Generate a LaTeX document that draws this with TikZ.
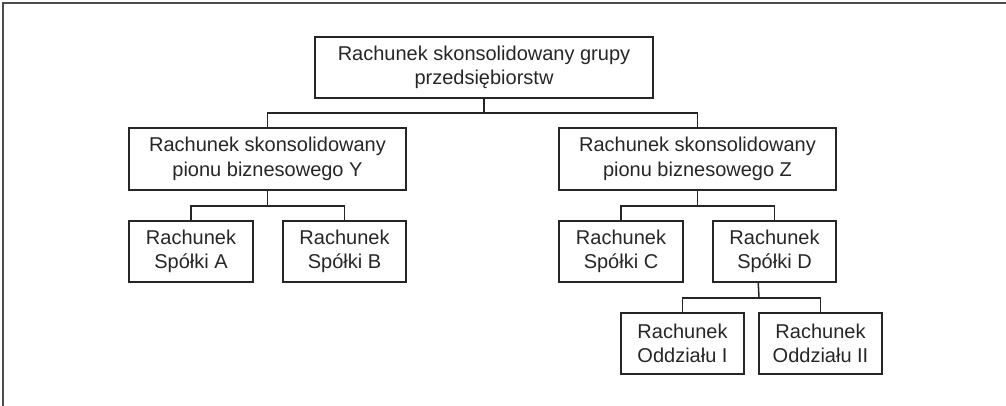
\documentclass[tikz,border=0pt]{standalone}
\usepackage{fontspec}
\setmainfont{Liberation Sans}
\begin{document}
\begin{tikzpicture}[x=0.75pt,y=-0.75pt,
  box/.style={draw=black!85,line width=1.15pt,rectangle,inner sep=0pt,align=center,
    font=\fontsize{15}{18.4}\selectfont,text=black!85},
  conn/.style={draw=black!85,line width=1.15pt},
  frame/.style={draw=black!70,line width=1.4pt}]
\useasboundingbox (0,0) rectangle (1006,406);
\draw[frame] (3,406) -- (3,3) -- (1006,3);
\node[box,minimum width=338*0.75pt,minimum height=61*0.75pt] (top) at (484,67.5) {Rachunek skonsolidowany grupy\\przedsiębiorstw};
\node[box,minimum width=277*0.75pt,minimum height=62*0.75pt] (Y) at (267.5,159) {Rachunek skonsolidowany\\pionu biznesowego Y};
\node[box,minimum width=277*0.75pt,minimum height=62*0.75pt] (Z) at (697.5,159) {Rachunek skonsolidowany\\pionu biznesowego Z};
\node[box,minimum width=124*0.75pt,minimum height=61*0.75pt] (A) at (191,251.5) {Rachunek\\Spółki A};
\node[box,minimum width=123*0.75pt,minimum height=61*0.75pt] (B) at (344.5,251.5) {Rachunek\\Spółki B};
\node[box,minimum width=124*0.75pt,minimum height=61*0.75pt] (C) at (621,251.5) {Rachunek\\Spółki C};
\node[box,minimum width=123*0.75pt,minimum height=61*0.75pt] (D) at (774.5,251.5) {Rachunek\\Spółki D};
\node[box,minimum width=123*0.75pt,minimum height=61*0.75pt] (I) at (682.5,343.5) {Rachunek\\Oddziału I};
\node[box,minimum width=123*0.75pt,minimum height=61*0.75pt] (II) at (820.5,343.5) {Rachunek\\Oddziału II};
\coordinate (j1) at (484,113);
\coordinate (j2) at (267.5,206);
\coordinate (j3) at (697.5,206);
\coordinate (j4) at (759,298);
\draw[conn] (top.south) -- (j1);
\draw[conn] (Y.north) |- (j1) -| (Z.north);
\draw[conn] (Y.south) -- (j2);
\draw[conn] (A.north) |- (j2) -| (B.north);
\draw[conn] (Z.south) -- (j3);
\draw[conn] (C.north) |- (j3) -| (D.north);
\draw[conn] (D.south -| II.west) -- (j4);
\draw[conn] (I.north) |- (j4) -| (II.north);
\end{tikzpicture}
\end{document}
